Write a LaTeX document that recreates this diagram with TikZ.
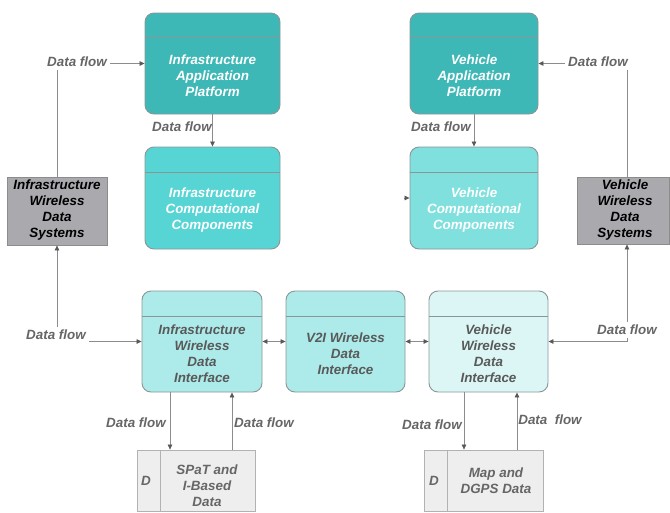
\documentclass[tikz,border=0pt]{standalone}
\usepackage{fontspec}
\setmainfont{Liberation Sans}
\usetikzlibrary{arrows.meta,calc}
\definecolor{appc}{HTML}{3EB8B7}
\definecolor{compic}{HTML}{57D4D4}
\definecolor{compvc}{HTML}{80E0DE}
\definecolor{ific}{HTML}{ADEBEA}
\definecolor{ifvc}{HTML}{DCF6F6}
\definecolor{sysc}{HTML}{A9A9AE}
\definecolor{storec}{HTML}{EEEEEE}
\definecolor{boxline}{HTML}{8A9696}
\definecolor{linec}{HTML}{8C8C8C}
\definecolor{lblc}{HTML}{666666}
\definecolor{iftxt}{HTML}{595959}
\begin{document}
\begin{tikzpicture}[x=1pt,y=-1pt,
  font=\fontsize{13.4}{16}\selectfont\bfseries\itshape,
  rbox/.style={draw=boxline, line width=0.9pt, rounded corners=9pt, inner sep=0pt},
  sbox/.style={draw=linec, line width=0.8pt, inner sep=0pt},
  hdr/.style={draw=boxline, line width=0.9pt},
  wtxt/.style={text=white, align=center, inner sep=0pt},
  gtxt/.style={text=iftxt, align=center, inner sep=0pt},
  ktxt/.style={text=black, align=center, inner sep=0pt},
  lbl/.style={text=lblc, inner sep=1pt},
  clbl/.style={text=lblc, fill=white, inner sep=3pt},
  conn/.style={draw=linec, line width=0.7pt, arrows={-Triangle[length=5pt,width=4.5pt,color=black!65]}},
  bconn/.style={draw=linec, line width=0.7pt, arrows={Triangle[length=5pt,width=4.5pt,color=black!65]-Triangle[length=5pt,width=4.5pt,color=black!65]}}
]
\useasboundingbox (0,0) rectangle (670,512);

% top boxes
\node[rbox, fill=appc, minimum width=135pt, minimum height=101pt] (appI) at (212.5,63.5) {};
\draw[hdr] ([yshift=-25pt]appI.north west) -- ([yshift=-25pt]appI.north east);
\node[wtxt] (appIt) at (212.5,75.5) {Infrastructure\\Application\\Platform};

\node[rbox, fill=compic, minimum width=135pt, minimum height=102pt] (compI) at (212.5,198) {};
\draw[hdr] ([yshift=-26pt]compI.north west) -- ([yshift=-26pt]compI.north east);
\node[wtxt] (compIt) at (212.5,210.5) {Infrastructure\\Computational\\Components};

\node[rbox, fill=appc, minimum width=128pt, minimum height=101pt] (appV) at (474,63.5) {};
\draw[hdr] ([yshift=-25pt]appV.north west) -- ([yshift=-25pt]appV.north east);
\node[wtxt] (appVt) at (474,75.5) {Vehicle\\Application\\Platform};

\node[rbox, fill=compvc, minimum width=128pt, minimum height=102pt] (compV) at (474,198) {};
\draw[hdr] ([yshift=-26pt]compV.north west) -- ([yshift=-26pt]compV.north east);
\node[wtxt] (compVt) at (474,210.5) {Vehicle\\Computational\\Components};

% systems
\node[sbox, fill=sysc, minimum width=100pt, minimum height=68pt] (sysI) at (57,211) {};
\node[ktxt] (sysIt) at (57,210) {Infrastructure\\Wireless\\Data\\Systems};
\node[sbox, fill=sysc, minimum width=92pt, minimum height=67pt] (sysV) at (623,210.5) {};
\node[ktxt] (sysVt) at (625,210) {Vehicle\\Wireless\\Data\\Systems};

% interfaces
\node[rbox, fill=ific, minimum width=120pt, minimum height=101pt] (ifI) at (202,341.5) {};
\draw[hdr] ([yshift=-26pt]ifI.north west) -- ([yshift=-26pt]ifI.north east);
\node[gtxt] (ifIt) at (202,354) {Infrastructure\\Wireless\\Data\\Interface};

\node[rbox, fill=ific, minimum width=119pt, minimum height=101pt] (v2i) at (345.5,341.5) {};
\draw[hdr] ([yshift=-26pt]v2i.north west) -- ([yshift=-26pt]v2i.north east);
\node[gtxt] (v2it) at (345.5,353.5) {V2I Wireless\\Data\\Interface};

\node[rbox, fill=ifvc, minimum width=119pt, minimum height=101pt] (ifV) at (488.5,341.5) {};
\draw[hdr] ([yshift=-26pt]ifV.north west) -- ([yshift=-26pt]ifV.north east);
\node[gtxt] (ifVt) at (488.5,354) {Vehicle\\Wireless\\Data\\Interface};

% data stores
\node[sbox, draw=black!30, fill=storec, minimum width=118pt, minimum height=61pt] (spat) at (196,480.5) {};
\draw[draw=black!30, line width=0.8pt] ([xshift=24pt]spat.north west) -- ([xshift=24pt]spat.south west);
\node[gtxt, text=lblc] (spatD) at (146,480.5) {D};
\node[gtxt, text=lblc] (spatt) at (207,486) {SPaT and\\I-Based\\Data};

\node[sbox, draw=black!30, fill=storec, minimum width=119pt, minimum height=61pt] (map) at (483.5,480.5) {};
\draw[draw=black!30, line width=0.8pt] ([xshift=24pt]map.north west) -- ([xshift=24pt]map.south west);
\node[gtxt, text=lblc] (mapD) at (434,480.5) {D};
\node[gtxt, text=lblc] (mapt) at (496,481) {Map and\\DGPS Data};

% connectors
\draw[conn] (appI.south) -- (compI.north);
\draw[conn] (appV.south) -- (compV.north);
\coordinate (stub) at ([xshift=-6pt]compV.west);
\draw[conn] (stub) -- (compV.west);

\draw[conn] (sysI.north) |- (appI.west);
\draw[bconn] (sysI.south) |- (ifI.west);
\draw[conn] ([xshift=4pt]sysV.north) |- (appV.east);
\draw[bconn] ([xshift=4pt]sysV.south) |- (ifV.east);

\draw[bconn] (ifI.east) -- (v2i.west);
\draw[bconn] (v2i.east) -- (ifV.west);

\draw[conn] ([xshift=-32pt]ifI.south) -- ([xshift=-32pt]ifI.south |- spat.north);
\draw[conn] ([xshift=30pt]ifI.south |- spat.north) -- ([xshift=30pt]ifI.south);
\draw[conn] ([xshift=-24.5pt]ifV.south) -- ([xshift=-24.5pt]ifV.south |- map.north);
\draw[conn] ([xshift=28.5pt]ifV.south |- map.north) -- ([xshift=28.5pt]ifV.south);

% labels
\node[lbl] (l1) at (182,127) {Data flow};
\node[lbl] (l2) at (441,127) {Data flow};
\node[clbl] (l3) at (77,62) {Data flow};
\node[clbl] (l4) at (598,62) {Data flow};
\node[clbl] (l5) at (56,335) {Data flow};
\node[clbl] (l6) at (627,330) {Data flow};
\node[lbl] (l7) at (136,423) {Data flow};
\node[lbl] (l8) at (264,423) {Data flow};
\node[lbl] (l9) at (432,425) {Data flow};
\node[lbl] (l10) at (550,420) {Data\ \ flow};
\end{tikzpicture}
\end{document}
